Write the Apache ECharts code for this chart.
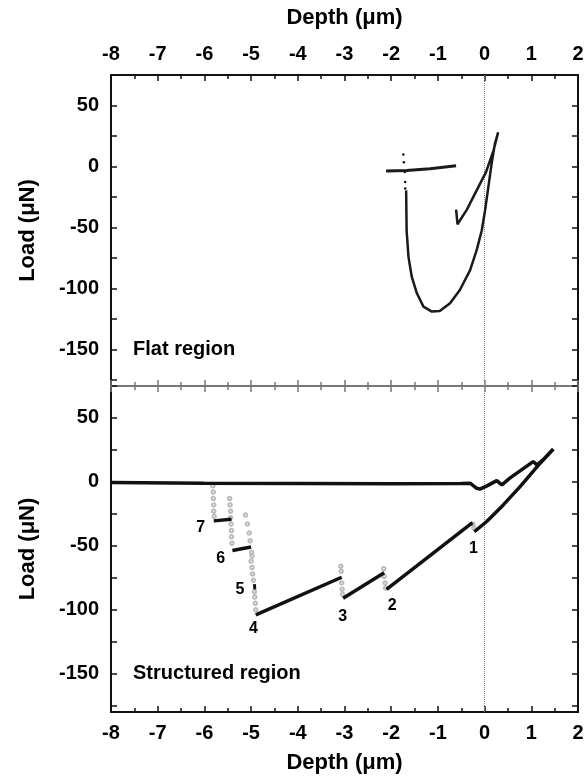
<!DOCTYPE html>
<html>
<head>
<meta charset="utf-8">
<script src="https://cdn.jsdelivr.net/npm/echarts@6/dist/echarts.min.js"></script>
<style>
html,body{margin:0;padding:0;background:#fff;}
#chart{width:587px;height:777px;}
</style>
</head>
<body>
<div id="chart"></div>
<script>
// ---------- axis ticks ----------
const xTicks = [-8, -7, -6, -5, -4, -3, -2, -1, 0, 1, 2];
const yTickValues = [-175, -150, -125, -100, -75, -50, -25, 0, 25, 50, 75];
const yLabelValues = [-150, -100, -50, 0, 50];

// ---------- top panel: flat region ----------
const flatLoopX = [-0.61, -0.58, -0.38, -0.17, 0.03, 0.19, 0.29, 0.22, 0.15, 0.08, 0.01, -0.06, -0.17, -0.31, -0.53, -0.74, -0.96, -1.13, -1.31, -1.45, -1.56, -1.63, -1.67, -1.68];
const flatLoopY = [-35.4, -47.4, -35.4, -19.6, -4.6, 13, 28, 18.5, 2.2, -16.9, -36, -52.3, -68.6, -85, -101.3, -112.2, -118.5, -119, -114.9, -104, -90.4, -74.1, -52.3, -19.6];
const flatTailX = [-2.11, -1.67, -1.17, -0.61];
const flatTailY = [-3.8, -3.3, -1.9, 0.5];
const flatDotsX = [-1.74, -1.73, -1.71, -1.70, -1.70];
const flatDotsY = [9.8, 3.5, -4.6, -12.8, -18];

// ---------- bottom panel: structured region ----------
const baseX = [-8, -6, -4, -2, -0.5, -0.31, -0.17, -0.10, 0.05, 0.26, 0.37, 0.54, 1.04, 1.12, 1.25, 1.47];
const baseY = [-0.5, -1, -1.2, -1.5, -1.2, -1, -5, -5.7, -3.1, 1, -2.3, 2.9, 15.9, 13.3, 17.2, 25.6];
const seg7X = [-5.80, -5.42];
const seg7Y = [-30.5, -29.2];
const seg6X = [-5.40, -5.00];
const seg6Y = [-53.7, -51.0];
const seg5X = [-4.93, -4.92];
const seg5Y = [-80, -84];
const seg4X = [-4.90, -3.06];
const seg4Y = [-104, -74.6];
const seg3X = [-3.03, -2.15];
const seg3Y = [-91, -71];
const seg2X = [-2.10, -0.26];
const seg2Y = [-84, -31.8];
const seg1X = [-0.22, 0.045, 0.40, 0.76, 1.19, 1.47];
const seg1Y = [-39, -31, -18, -3.7, 14.6, 25.6];
const popInX = [-5.82, -5.81, -5.81, -5.80, -5.80, -5.79,
  -5.46, -5.45, -5.44, -5.44, -5.43, -5.42, -5.42, -5.41,
  -5.12, -5.08, -5.04, -5.02, -4.99, -4.98,
  -5.00, -4.98, -4.97, -4.95, -4.93, -4.92, -4.91, -4.90,
  -3.08, -3.07, -3.06, -3.05, -3.04,
  -2.16, -2.15, -2.13, -2.12,
  -0.25, -0.23];
const popInY = [-3, -8, -13, -18, -23, -27,
  -13, -18, -23, -28, -33, -38, -43, -48,
  -26, -33, -40, -46, -55, -58,
  -62, -67, -72, -77, -86, -90, -95, -100,
  -66, -70, -79, -84, -88,
  -68, -74, -79, -83,
  -33, -36];
const eventLabels = ['7', '6', '5', '4', '3', '2', '1'];
const eventLabelX = [-6.08, -5.65, -5.24, -4.95, -3.04, -1.98, -0.24];
const eventLabelY = [-35.8, -59.7, -84.5, -114.5, -105.4, -97, -51.9];

// ---------- annotation text ----------
const regionNames = ['Flat region', 'Structured region'];
const regionX = [-7.55, -7.55];
const regionY = [-150, -150];

const zip = (xs, ys) => xs.map((x, i) => [x, ys[i]]);
const FONT = '"Liberation Sans", Arial, sans-serif';
const CLEAR = 'rgba(0,0,0,0)';

function xAxisCfg(grid, pos, main, color) {
  return {
    type: 'value', gridIndex: grid, position: pos, min: -8, max: 2, interval: 1,
    axisLine: { show: true, onZero: false, lineStyle: { color: color, width: 2 } },
    axisTick: { show: true, inside: true, length: 6, lineStyle: { color: color, width: 1.5 } },
    minorTick: { show: true, splitNumber: 2, length: 4, lineStyle: { color: color, width: 1.5 } },
    splitLine: { show: false }, minorSplitLine: { show: false },
    axisLabel: { show: main, margin: 11, color: '#000', fontFamily: FONT, fontWeight: 'bold', fontSize: 20 },
    name: main ? 'Depth (μm)' : '', nameLocation: 'middle', nameGap: pos === 'top' ? 46 : 40,
    nameTextStyle: { color: '#000', fontFamily: FONT, fontWeight: 'bold', fontSize: 22 }
  };
}
function yAxisCfg(grid, pos, main) {
  return {
    type: 'value', gridIndex: grid, position: pos, min: -180, max: 75,
    axisLine: { show: true, onZero: false, lineStyle: { color: '#111', width: 2 } },
    axisTick: { show: true, inside: true, length: 6, customValues: yTickValues, lineStyle: { color: '#111', width: 1.5 } },
    splitLine: { show: false },
    axisLabel: { show: main, customValues: yLabelValues, margin: 12, color: '#000', fontFamily: FONT, fontWeight: 'bold', fontSize: 20 },
    name: main ? 'Load (μN)' : '', nameLocation: 'middle', nameGap: 72,
    nameTextStyle: { color: '#000', fontFamily: FONT, fontWeight: 'bold', fontSize: 22 }
  };
}

const lineS = (name, xa, ya, xs, ys, w, col) => ({
  name, type: 'line', xAxisIndex: xa, yAxisIndex: ya, data: zip(xs, ys),
  showSymbol: false, symbol: 'none', smooth: false,
  lineStyle: { color: col || '#1a1a1a', width: w }, z: 5
});
const textS = (xa, ya, items, pos, size) => ({
  type: 'scatter', xAxisIndex: xa, yAxisIndex: ya, silent: true,
  data: items, symbol: 'circle', symbolSize: 1,
  itemStyle: { color: CLEAR, borderColor: CLEAR, opacity: 1 },
  label: { show: true, position: pos, distance: 0, formatter: p => p.name, color: '#000', opacity: 1,
    fontFamily: FONT, fontWeight: 'bold', fontSize: size },
  z: 6
});

const chart = echarts.init(document.getElementById('chart'), null, { renderer: 'canvas' });
chart.setOption({
  animation: false,
  backgroundColor: '#fff',
  grid: [
    { left: 111, right: 9, top: 75, height: 311 },
    { left: 111, right: 9, top: 386, height: 326 }
  ],
  xAxis: [
    xAxisCfg(0, 'top', true, '#111'),
    xAxisCfg(0, 'bottom', false, '#777'),
    xAxisCfg(1, 'top', false, '#777'),
    xAxisCfg(1, 'bottom', true, '#111')
  ],
  yAxis: [
    yAxisCfg(0, 'left', true),
    yAxisCfg(0, 'right', false),
    yAxisCfg(1, 'left', true),
    yAxisCfg(1, 'right', false)
  ],
  series: [
    {
      type: 'line', xAxisIndex: 0, yAxisIndex: 0, data: [], silent: true,
      markLine: { symbol: 'none', silent: true, label: { show: false },
        lineStyle: { type: 'dotted', color: '#888', width: 1 }, data: [{ xAxis: 0 }] }
    },
    {
      type: 'line', xAxisIndex: 3, yAxisIndex: 2, data: [], silent: true,
      markLine: { symbol: 'none', silent: true, label: { show: false },
        lineStyle: { type: 'dotted', color: '#888', width: 1 }, data: [{ xAxis: 0 }] }
    },
    lineS('flatLoop', 0, 0, flatLoopX, flatLoopY, 2.5),
    lineS('flatTail', 0, 0, flatTailX, flatTailY, 3),
    {
      type: 'scatter', xAxisIndex: 0, yAxisIndex: 0, data: zip(flatDotsX, flatDotsY),
      symbolSize: 2.5, itemStyle: { color: '#111', opacity: 1 }, z: 5
    },
    {
      type: 'scatter', xAxisIndex: 3, yAxisIndex: 2, data: zip(popInX, popInY),
      symbol: 'emptyCircle', symbolSize: 3.5, itemStyle: { color: '#aaa', borderColor: '#aaa', borderWidth: 1 }, z: 4
    },
    lineS('base', 3, 2, baseX, baseY, 3.5, '#111'),
    lineS('seg7', 3, 2, seg7X, seg7Y, 3.5, '#111'),
    lineS('seg6', 3, 2, seg6X, seg6Y, 3.5, '#111'),
    lineS('seg5', 3, 2, seg5X, seg5Y, 3, '#111'),
    lineS('seg4', 3, 2, seg4X, seg4Y, 3.5, '#111'),
    lineS('seg3', 3, 2, seg3X, seg3Y, 3.5, '#111'),
    lineS('seg2', 3, 2, seg2X, seg2Y, 3.5, '#111'),
    lineS('seg1', 3, 2, seg1X, seg1Y, 3.5, '#111'),
    textS(3, 2, eventLabels.map((t, i) => ({ name: t, value: [eventLabelX[i], eventLabelY[i]] })), 'inside', 16),
    textS(0, 0, [{ name: regionNames[0], value: [regionX[0], regionY[0]] }], 'right', 20),
    textS(3, 2, [{ name: regionNames[1], value: [regionX[1], regionY[1]] }], 'right', 20)
  ]
});
</script>
</body>
</html>
